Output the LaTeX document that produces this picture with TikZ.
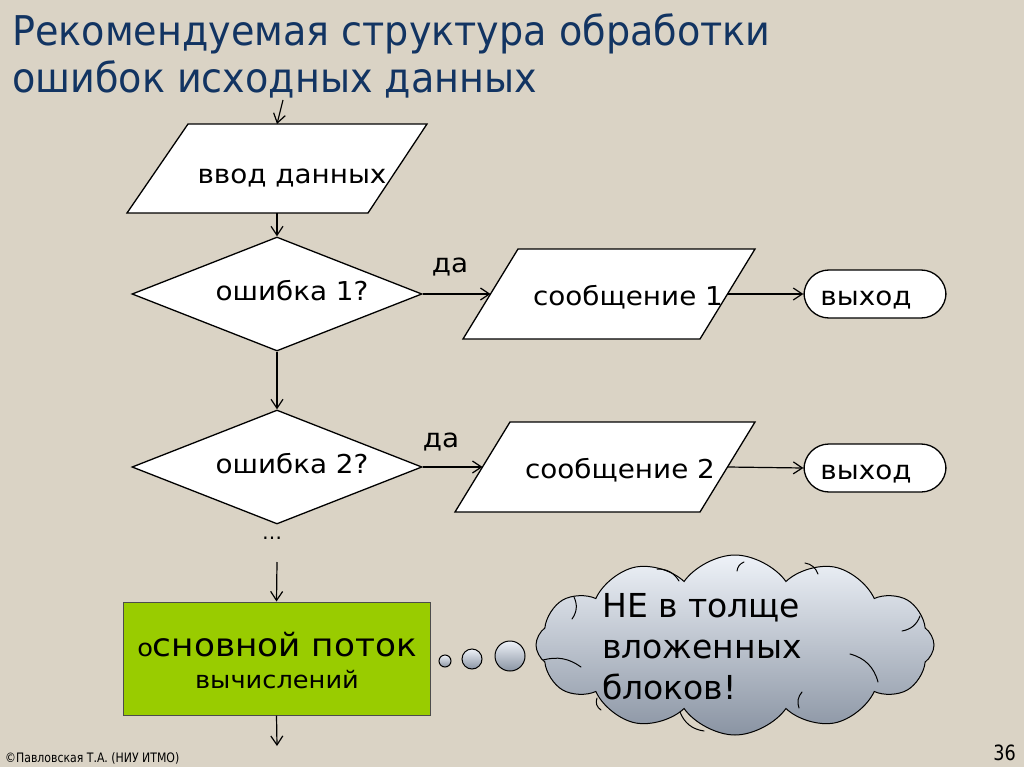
\documentclass[tikz,border=0pt]{standalone}
\usepackage{fontspec}
\setmainfont{DejaVu Sans}
\newfontfamily\titlefont[FakeStretch=0.93]{DejaVu Sans}
\newfontfamily\narrowfont[FakeStretch=0.84]{DejaVu Sans}
\newfontfamily\widefont[FakeStretch=1.07]{DejaVu Sans}
\usetikzlibrary{shapes.geometric,shapes.symbols,arrows.meta}
\definecolor{bg}{RGB}{218,211,197}
\definecolor{titleblue}{RGB}{18,52,98}
\definecolor{flowgreen}{RGB}{153,204,0}
\definecolor{cloudtop}{RGB}{238,242,248}
\definecolor{cloudbot}{RGB}{138,148,163}
\tikzset{
  shp/.style={draw=black, fill=white, line width=1.3pt, line join=miter},
  decide/.style={shp, diamond, inner sep=0pt, minimum width=290pt, minimum height=114pt},
  exitbox/.style={shp, rectangle, rounded corners=25pt, minimum width=142pt, minimum height=48pt},
  lbl/.style={font=\widefont\fontsize{26}{30}\selectfont, inner sep=0pt, anchor=base},
  arr/.style={draw=black, line width=1.2pt, -{Straight Barb[length=9pt,width=12pt]}},
  bubble/.style={draw=black, line width=1pt, circle, inner sep=0pt, top color=cloudtop, bottom color=cloudbot},
  puffline/.style={draw=black, line width=1pt, line cap=round},
}
\begin{document}
\begin{tikzpicture}[x=1pt,y=-1pt]
\fill[bg] (0,0) rectangle (1024,767);
\useasboundingbox (0,0) rectangle (1024,767);
% title
\node[anchor=base west, inner sep=0pt, text=titleblue, font=\titlefont\fontsize{41}{47}\selectfont] (t1) at (12,46) {Рекомендуемая структура обработки};
\node[anchor=base west, inner sep=0pt, text=titleblue, font=\titlefont\fontsize{41}{47}\selectfont] (t2) at (12,93) {ошибок исходных данных};
% input parallelogram
\coordinate (start) at (283,100);
\draw[shp] (127,213) -- (368,213) -- (427,124) -- (188,124) -- cycle;
\coordinate (in1n) at (277,124);
\coordinate (in1s) at (277,213);
\node[lbl] (in1t) at (292,184) {ввод данных};
% decision 1
\node[decide] (d1) at (277,294) {};
\node[lbl] (d1t) at (292,300) {ошибка 1?};
% message 1
\draw[shp] (463,339) -- (700,339) -- (755,249) -- (518,249) -- cycle;
\coordinate (m1w) at (490.5,294);
\coordinate (m1e) at (727.5,294);
\node[lbl] (m1t) at (628,305) {сообщение 1};
\node[exitbox] (e1) at (875,294) {};
\node[lbl] (e1t) at (866,305) {выход};
% decision 2
\node[decide] (d2) at (277,467) {};
\node[lbl] (d2t) at (292,473) {ошибка 2?};
% message 2
\draw[shp] (455,512) -- (700,512) -- (755,422) -- (510,422) -- cycle;
\coordinate (m2w) at (482.5,467);
\coordinate (m2e) at (727.5,467);
\node[lbl] (m2t) at (620,478) {сообщение 2};
\node[exitbox] (e2) at (875,468) {};
\node[lbl] (e2t) at (866,479) {выход};
% continuation
\node[inner sep=0pt, font=\fontsize{20}{24}\selectfont] (dots) at (272,538) {\dots};
\coordinate (c2) at (277,562);
\node[draw=black!70, line width=1pt, fill=flowgreen, minimum width=307pt, minimum height=113pt, inner sep=0pt] (main) at (276.5,658.5) {};
\node[inner sep=0pt, anchor=base, font=\widefont] (mt1) at (277,656)
  {{\fontsize{24}{28}\selectfont о}{\fontsize{32}{36}\selectfont сновной поток}};
\node[inner sep=0pt, anchor=base, font=\widefont\fontsize{24}{28}\selectfont] (mt2) at (277,688) {вычислений};
\coordinate (c3) at (277,746);
% labels
\node[lbl] (y1) at (450,272) {да};
\node[lbl] (y2) at (441,447) {да};
% connectors
\draw[arr] (start) -- (in1n);
\draw[arr] (in1s) -- (d1.north);
\draw[arr] (d1.east) -- (m1w);
\draw[arr] (m1e) -- (e1.west);
\draw[arr] (d1.south) -- (d2.north);
\draw[arr] (d2.east) -- (m2w);
\draw[arr] (m2e) -- (e2.west);
\draw[arr] (c2) -- (main.north);
\draw[arr] (main.south) -- (c3);
% thought cloud
\node[bubble, minimum size=12pt] (b1) at (445,661) {};
\node[bubble, minimum size=20pt] (b2) at (472,659) {};
\node[bubble, minimum size=30pt] (b3) at (510,656) {};
\node[cloud, cloud puffs=12, cloud puff arc=110, draw=black, line width=1pt, top color=cloudtop, bottom color=cloudbot,
  minimum width=398pt, minimum height=180pt] (cl) at (735,645) {};
% inner puff lines of the cloud
\draw[puffline] (657,569) to[bend left=30] (679,581);
\draw[puffline] (574,597) to[bend left=30] (572,619);
\draw[puffline] (543,660) to[bend left=25] (581,667);
\draw[puffline] (597,698) to[bend right=40] (601,710);
\draw[puffline] (680,712) to[bend right=30] (704,731);
\draw[puffline] (737,571) to[bend left=30] (744,562);
\draw[puffline] (805,563) to[bend left=30] (818,574);
\draw[puffline] (902,631) to[bend right=30] (920,616);
\draw[puffline] (850,654) to[bend left=30] (878,682);
\draw[puffline] (799,708) to[bend left=30] (802,692);
\node[anchor=north west, align=left, inner sep=0pt, font=\fontsize{33}{41}\selectfont] (clt) at (602,593)
  {НЕ в толще\\вложенных\\блоков!};
% footer
\node[anchor=base west, inner sep=0pt, font=\narrowfont\fontsize{13}{15}\selectfont] (foot) at (5,762) {©Павловская Т.А. (НИУ ИТМО)};
\node[anchor=base east, inner sep=0pt, font=\narrowfont\fontsize{21}{24}\selectfont] (pg) at (1016,760) {36};
\end{tikzpicture}
\end{document}
